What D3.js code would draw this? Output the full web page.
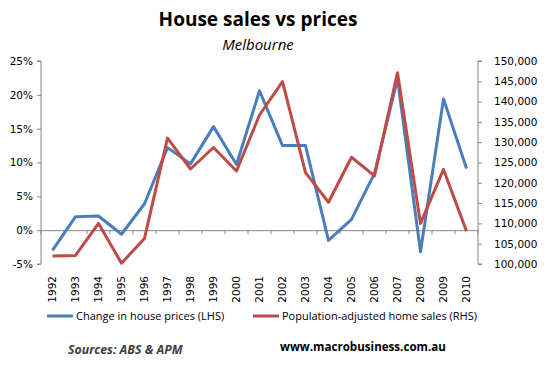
<!DOCTYPE html>
<html>
<head>
<meta charset="utf-8">
<script src="https://cdn.jsdelivr.net/npm/d3@7"></script>
<style>
  body { margin: 0; background: #fff; }
  svg text { font-family: "DejaVu Sans", Verdana, sans-serif; }
</style>
</head>
<body>
<svg id="chart"></svg>
<script>
let years = ["1992","1993","1994","1995","1996","1997","1998","1999","2000","2001",
             "2002","2003","2004","2005","2006","2007","2008","2009","2010"]
let priceChange = [-3.0, 2.0, 2.1, -0.6, 3.9, 12.2, 9.8, 15.3, 9.7, 20.6,
                   12.5, 12.5, -1.5, 1.6, 8.4, 22.4, -3.2, 19.4, 9.1]
let homeSales = [102000, 102100, 110000, 100200, 106300, 131000, 123400, 128700, 122900, 136700,
                 144900, 122500, 115200, 126300, 121700, 147100, 110000, 123300, 108100]
let leftTicks = [-5, 0, 5, 10, 15, 20, 25]
let rightTicks = [100000, 105000, 110000, 115000, 120000, 125000, 130000, 135000, 140000, 145000, 150000]

let width = 548
let height = 365
let plotLeft = 41, plotRight = 478, plotTop = 61, plotBottom = 264

let svg = d3.select("#chart").attr("width", width).attr("height", height)

let xScale = d3.scaleBand().domain(years).range([plotLeft, plotRight])
let yLeft = d3.scaleLinear().domain([-5, 25]).range([plotBottom, plotTop])
let yRight = d3.scaleLinear().domain([100000, 150000]).range([plotBottom, plotTop])

let axisColor = "#868686"

// title
svg.append("text").attr("x", 258).attr("y", 26).attr("text-anchor", "middle")
   .style("font-family", "'Open Sans', sans-serif").style("font-weight", "bold")
   .style("font-size", "19px").text("House sales vs prices")
svg.append("text").attr("x", 258).attr("y", 50).attr("text-anchor", "middle")
   .style("font-family", "'Open Sans', sans-serif").style("font-style", "italic")
   .style("font-size", "15px").text("Melbourne")

// left axis
let leftAxis = d3.axisLeft(yLeft).tickValues(leftTicks).tickSize(4).tickPadding(4)
                 .tickFormat(d => d + "%")
let gl = svg.append("g").attr("transform", "translate(" + plotLeft + ",0)").call(leftAxis)

// right axis
let rightAxis = d3.axisRight(yRight).tickValues(rightTicks).tickSize(4).tickPadding(12)
                  .tickFormat(d3.format(","))
let gr = svg.append("g").attr("transform", "translate(" + plotRight + ",0)").call(rightAxis)

// category axis at 0%
let xAxis = d3.axisBottom(xScale).tickSize(0).tickPadding(0)
let gx = svg.append("g").attr("transform", "translate(0," + yLeft(0) + ")").call(xAxis)
gx.selectAll(".tick").attr("transform", null)
gx.selectAll("text")
  .attr("transform", d => "translate(" + (xScale(d) + xScale.bandwidth() / 2) + "," + (276 - yLeft(0)) + ") rotate(-90)")
  .attr("x", 0).attr("y", 0).attr("dy", "0.35em")
  .attr("text-anchor", "end")
gx.selectAll(".bound")
  .data(years.concat(["end"]))
  .enter().append("line")
  .attr("x1", (d, i) => plotLeft + i * xScale.step())
  .attr("x2", (d, i) => plotLeft + i * xScale.step())
  .attr("y1", 0).attr("y2", 4)

;[gl, gr, gx].forEach(g => {
  g.selectAll("path, line").attr("stroke", axisColor)
  g.selectAll("text").style("font-size", "10.5px").attr("fill", "#000")
})
gr.select(".domain").attr("d", "M4," + plotTop + "H0V" + plotBottom + "H4")
gl.select(".domain").attr("d", "M-4," + plotTop + "H0V" + plotBottom + "H-4")

// lines
let cx = d => xScale(d) + xScale.bandwidth() / 2
let blueLine = d3.line().x((d, i) => cx(years[i])).y(d => yLeft(d))
let redLine = d3.line().x((d, i) => cx(years[i])).y(d => yRight(d))

svg.append("path").datum(priceChange).attr("d", blueLine)
   .attr("fill", "none").attr("stroke", "#4a7ebb").attr("stroke-width", 3).attr("stroke-linejoin", "round")
svg.append("path").datum(homeSales).attr("d", redLine)
   .attr("fill", "none").attr("stroke", "#be4b48").attr("stroke-width", 3).attr("stroke-linejoin", "round")

// legend
let legend = [
  {label: "Change in house prices (LHS)", color: "#4a7ebb", x: 47},
  {label: "Population-adjusted home sales (RHS)", color: "#be4b48", x: 253}
]
let lg = svg.selectAll(".legend").data(legend).enter().append("g")
lg.append("line").attr("x1", d => d.x).attr("x2", d => d.x + 26)
  .attr("y1", 316).attr("y2", 316).attr("stroke", d => d.color).attr("stroke-width", 3)
lg.append("text").attr("x", d => d.x + 29).attr("y", 320)
  .style("font-family", "'Open Sans', sans-serif").style("font-size", "11px").text(d => d.label)

// sources
svg.append("text").attr("x", 68).attr("y", 354)
   .style("font-family", "'Open Sans', sans-serif").style("font-weight", "bold").style("font-style", "italic")
   .style("font-size", "12.3px").attr("fill", "#404040").text("Sources: ABS & APM")
svg.append("text").attr("x", 280).attr("y", 351)
   .style("font-family", "'Open Sans', sans-serif").style("font-weight", "bold")
   .style("font-size", "11.6px").attr("fill", "#000").text("www.macrobusiness.com.au")
</script>
</body>
</html>
